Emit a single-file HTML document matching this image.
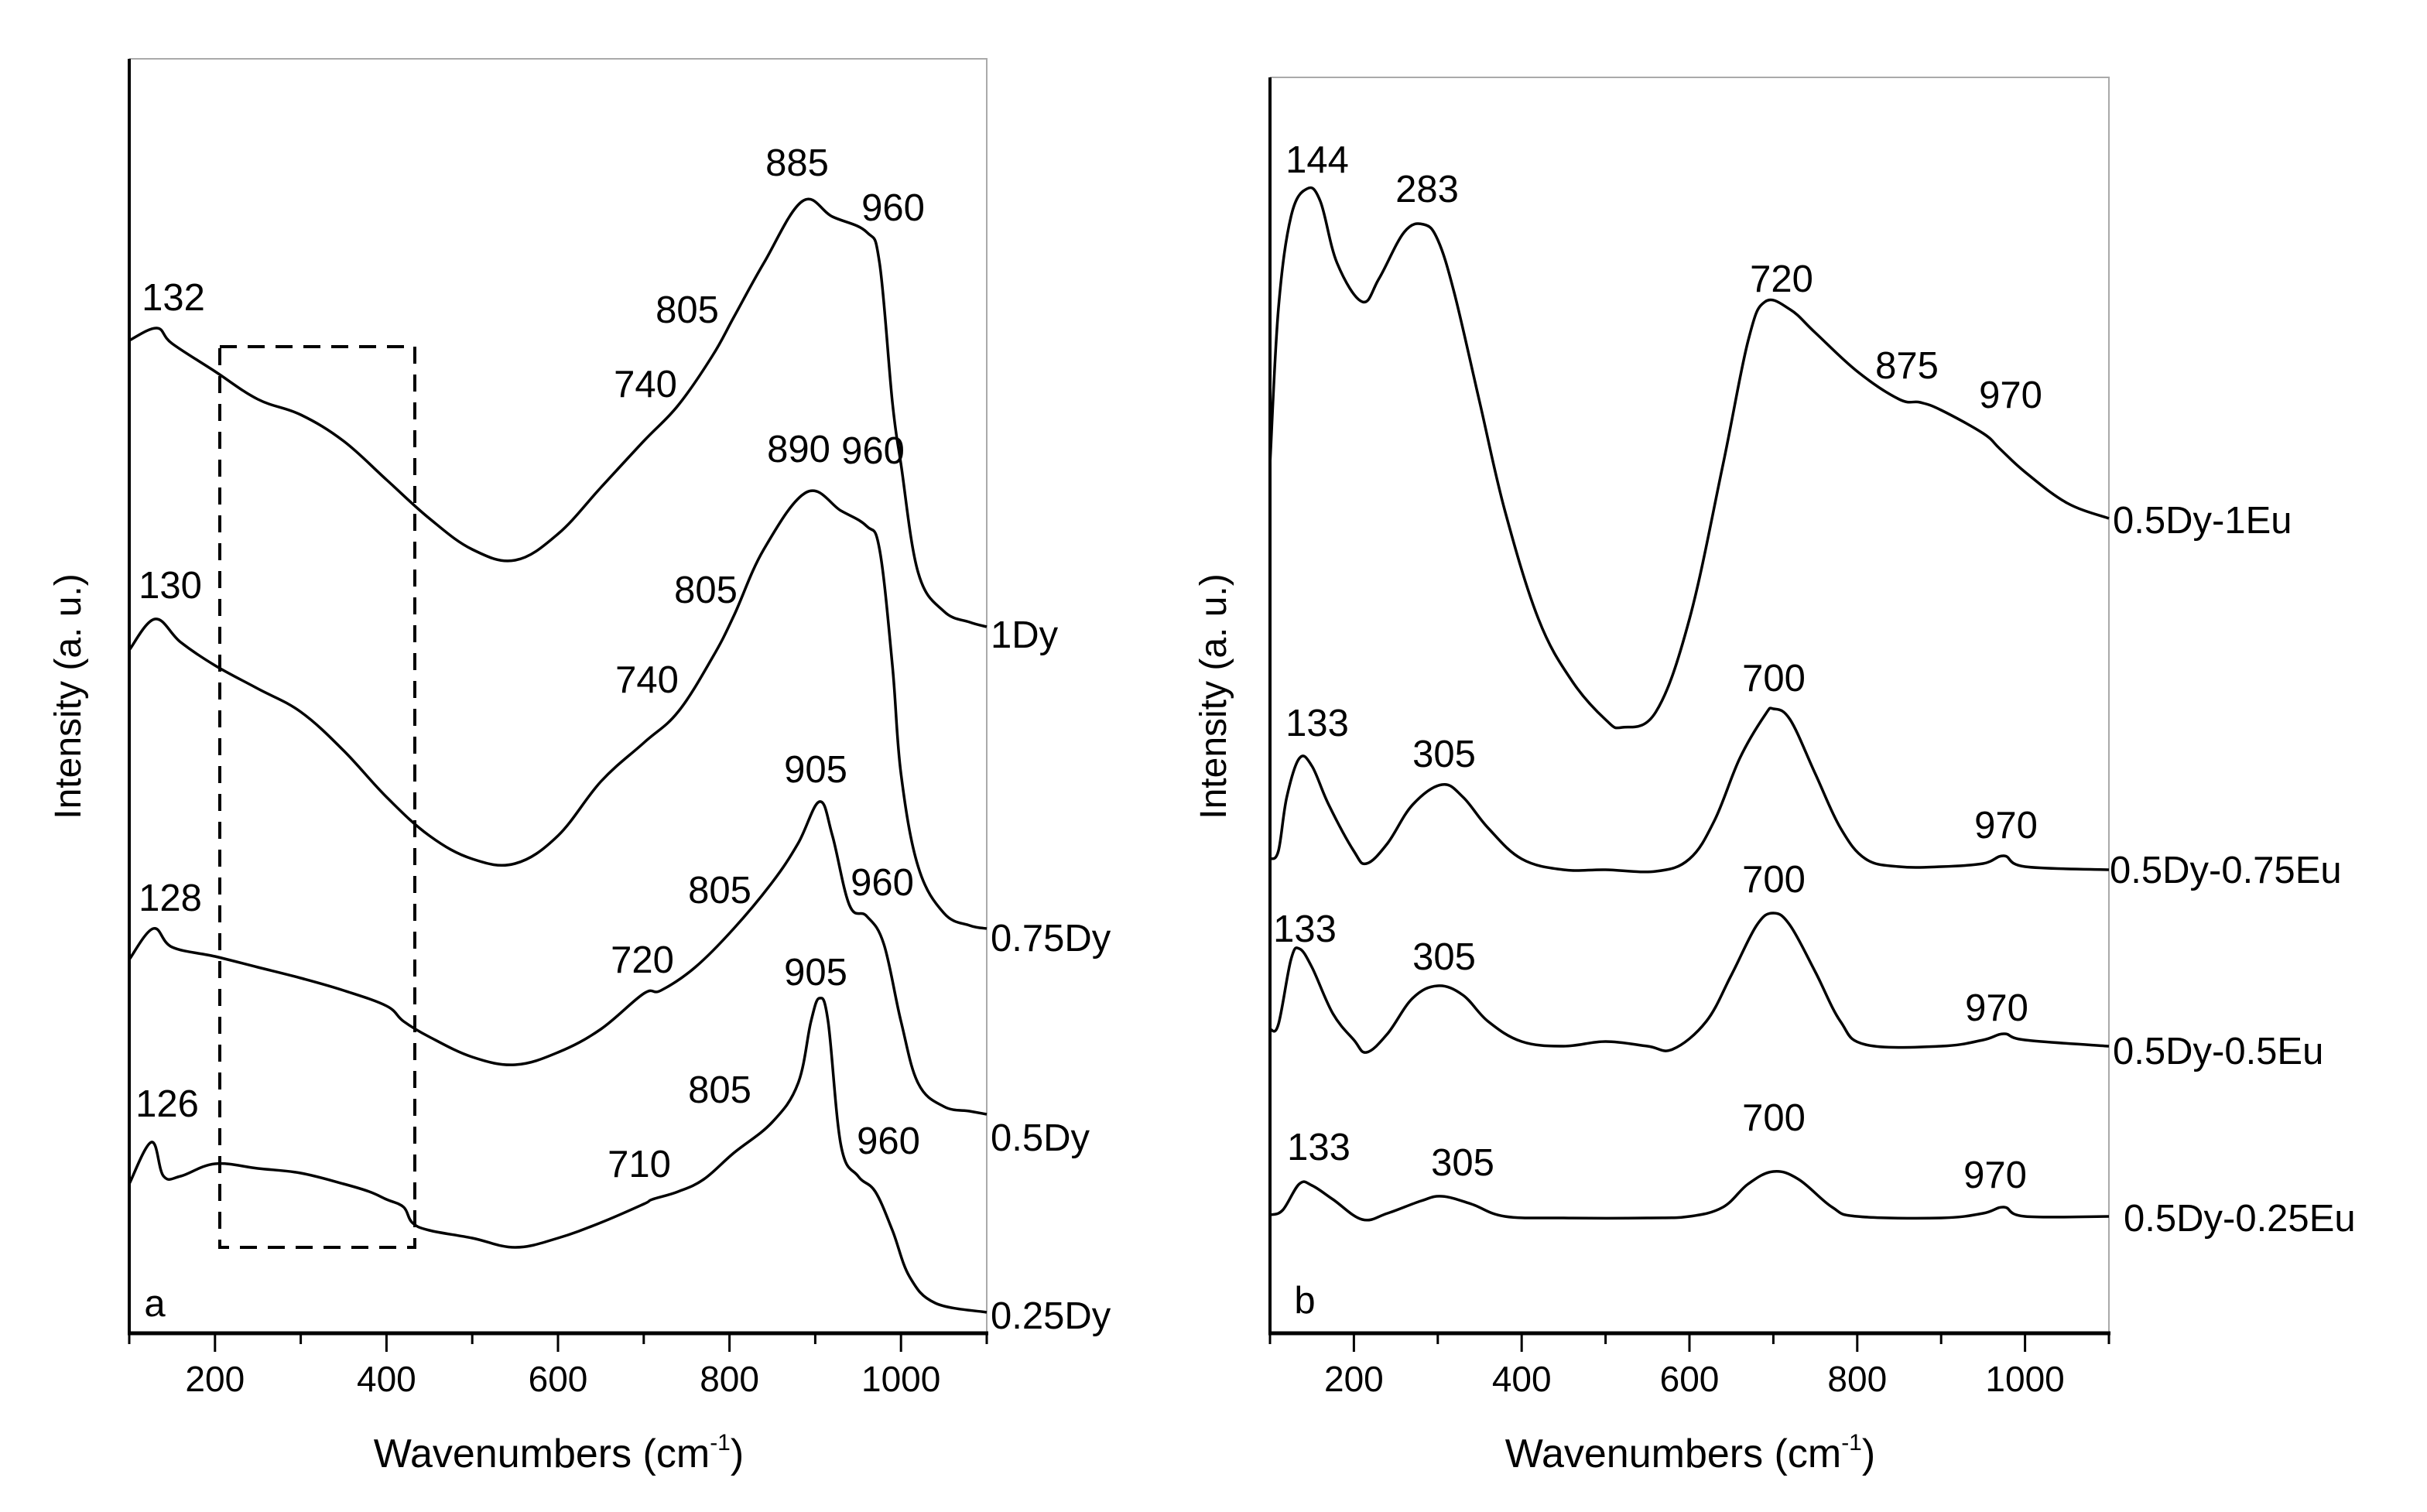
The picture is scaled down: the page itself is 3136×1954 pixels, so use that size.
<!DOCTYPE html>
<html><head><meta charset="utf-8"><style>
html,body{margin:0;padding:0;background:#fff;}
svg{display:block;font-family:"Liberation Sans",Arial,sans-serif;}
</style></head><body>
<svg id="fig" width="3136" height="1954" viewBox="0 0 3136 1954" xmlns="http://www.w3.org/2000/svg">
<rect width="3136" height="1954" fill="#fff"/>
</svg>
<script>
// ---- Panel a data ----
const wnA1 = [100,132,150,200,250,300,350,400,450,500,550,600,650,700,740,780,805,840,885,920,960,975,990,1000,1020,1050,1080,1100];
const vA1  = [642,650,640,622,604,594,577,552,527,507,500,517,547,577,600,632,657,692,732,722,712,692,602,562,492,467,460,457];
const wnA2 = [100,130,160,200,250,300,350,400,450,500,550,600,650,700,740,780,805,840,890,930,960,975,990,1000,1020,1050,1080,1100];
const vA2  = [442,462,447,432,417,402,377,347,322,307,304,322,357,382,402,437,464,507,544,532,522,507,432,362,302,272,264,262];
const wnA3 = [100,128,150,200,250,300,350,400,420,450,500,550,600,650,700,720,760,805,850,880,905,920,940,960,980,1000,1020,1050,1080,1100];
const vA3  = [242,262,250,244,237,230,222,212,202,192,179,174,182,197,220,222,237,262,292,317,344,322,277,270,252,202,162,147,144,142];
const wnA4 = [100,126,140,160,200,250,300,350,380,400,420,430,450,500,550,600,650,700,710,740,770,805,850,880,895,905,915,930,950,970,990,1010,1040,1100];
const vA4  = [97,124,102,102,110,107,104,97,92,87,82,72,67,62,56,62,72,84,87,92,100,117,137,162,202,217,202,122,102,92,67,37,20,14];
// ---- Panel b data ----
const wnB1 = [100,110,125,144,160,180,210,230,260,283,300,320,350,380,420,460,500,520,560,600,640,670,690,720,750,800,850,875,900,950,970,1000,1050,1100];
const vB1  = [562,662,722,740,732,692,667,682,712,717,707,672,602,532,462,422,397,392,402,462,562,642,667,662,647,622,604,602,597,582,572,557,537,527];
const wnB2 = [100,110,120,135,150,170,200,215,240,270,305,330,360,400,450,500,560,600,630,660,690,700,720,750,780,810,850,900,950,975,1000,1100];
const vB2  = [307,312,347,372,367,342,312,304,317,342,355,347,327,307,300,300,299,307,332,372,400,404,397,362,327,307,302,302,304,309,302,300];
const wnB3 = [100,110,125,135,150,175,200,215,240,270,300,330,360,400,450,500,550,580,620,650,680,700,720,750,780,810,900,950,975,1000,1100];
const vB3  = [197,200,242,249,237,207,190,182,194,217,225,219,202,189,186,189,186,184,202,232,264,272,264,234,202,187,186,190,194,190,186];
const wnB4 = [100,115,135,150,175,210,240,280,305,340,380,450,550,600,640,670,700,730,770,800,900,950,975,1000,1100];
const vB4  = [77,80,97,96,87,74,78,86,89,84,76,75,75,76,82,97,105,100,82,76,75,78,82,76,76];
const xTicks = [200,400,600,800,1000];
const minorTicks = [100,300,500,700,900,1100];

const NS = "http://www.w3.org/2000/svg";
const svg = document.getElementById('fig');
function mk(tag, attrs, parent){ const e=document.createElementNS(NS,tag); for(const k in attrs) e.setAttribute(k,attrs[k]); (parent||svg).appendChild(e); return e; }
function yS(v){ return 1724 - 2*v; }
function smoothPath(pts){
  let d = 'M'+pts[0][0].toFixed(1)+','+pts[0][1].toFixed(1);
  for(let i=0;i<pts.length-1;i++){
    const p0=pts[Math.max(0,i-1)], p1=pts[i], p2=pts[i+1], p3=pts[Math.min(pts.length-1,i+2)];
    const t=0.18;
    const c1x=p1[0]+(p2[0]-p0[0])*t, c1y=p1[1]+(p2[1]-p0[1])*t;
    const c2x=p2[0]-(p3[0]-p1[0])*t, c2y=p2[1]-(p3[1]-p1[1])*t;
    d+=` C${c1x.toFixed(1)},${c1y.toFixed(1)} ${c2x.toFixed(1)},${c2y.toFixed(1)} ${p2[0].toFixed(1)},${p2[1].toFixed(1)}`;
  }
  return d;
}

const panels = [
  {key:'a', x0:167, x1:1275, top:76, series:[[wnA1,vA1,'1Dy'],[wnA2,vA2,'0.75Dy'],[wnA3,vA3,'0.5Dy'],[wnA4,vA4,'0.25Dy']]},
  {key:'b', x0:1641, x1:2725, top:100, series:[[wnB1,vB1,'0.5Dy-1Eu'],[wnB2,vB2,'0.5Dy-0.75Eu'],[wnB3,vB3,'0.5Dy-0.5Eu'],[wnB4,vB4,'0.5Dy-0.25Eu']]}
];
panels.forEach(p=>{
  const xS = wn => p.x0 + (wn-100)/1000*(p.x1-p.x0);
  const g = mk('g',{});
  
  
  const fr = mk('path',{d:`M${p.x0},${p.top} H${p.x1} V1723`,fill:'none',stroke:'#aaa','stroke-width':2},g);
  
  
  const ya = mk('line',{x1:p.x0,y1:p.top,x2:p.x0,y2:1724,stroke:'#000','stroke-width':4},g);
  
  
  const xa = mk('line',{x1:p.x0-2,y1:1723,x2:p.x1+2,y2:1723,stroke:'#000','stroke-width':5},g);
  
  
  xTicks.forEach(t=>{
    const tk = mk('line',{x1:xS(t),y1:1723,x2:xS(t),y2:1747,stroke:'#000','stroke-width':3},g);
    
    
    const tl = mk('text',{x:xS(t),y:1798,'font-size':46,'text-anchor':'middle'},g);
    tl.textContent = t;
    
    
  });
  minorTicks.forEach(t=>{
    const tk = mk('line',{x1:xS(t),y1:1723,x2:xS(t),y2:1737,stroke:'#000','stroke-width':3},g);
    
    
  });
  p.series.forEach(([wn,v,name])=>{
    const pts = wn.map((w,i)=>[xS(w), yS(v[i])]);
    const path = mk('path',{d:smoothPath(pts),fill:'none',stroke:'#000','stroke-width':3.5,'stroke-linejoin':'round'},g);
    
    
  });
});
// dashed box panel a
const box = mk('rect',{x:284,y:448,width:252,height:1164,fill:'none',stroke:'#000','stroke-width':4,'stroke-dasharray':'22 14'});



// annotation labels [text, x, y(center), anchor]
const labels = [
 ['132',224,384,'middle'],['885',1030,210,'middle'],['960',1154,268,'middle'],['805',888,400,'middle'],['740',834,496,'middle'],['1Dy',1280,820,'start'],
 ['130',220,756,'middle'],['890',1032,580,'middle'],['960',1128,582,'middle'],['805',912,762,'middle'],['740',836,878,'middle'],['0.75Dy',1280,1212,'start'],
 ['128',220,1160,'middle'],['905',1054,994,'middle'],['805',930,1150,'middle'],['960',1140,1140,'middle'],['720',830,1240,'middle'],['0.5Dy',1280,1470,'start'],
 ['126',216,1426,'middle'],['905',1054,1256,'middle'],['805',930,1408,'middle'],['960',1148,1474,'middle'],['710',826,1504,'middle'],['0.25Dy',1280,1700,'start'],
 ['a',200,1684,'middle'],
 ['144',1702,206,'middle'],['283',1844,244,'middle'],['720',2302,360,'middle'],['875',2464,472,'middle'],['970',2598,510,'middle'],['0.5Dy-1Eu',2730,672,'start'],
 ['133',1702,934,'middle'],['305',1866,974,'middle'],['700',2292,876,'middle'],['970',2592,1066,'middle'],['0.5Dy-0.75Eu',2726,1124,'start'],
 ['133',1686,1200,'middle'],['305',1866,1236,'middle'],['700',2292,1136,'middle'],['970',2580,1302,'middle'],['0.5Dy-0.5Eu',2730,1358,'start'],
 ['133',1704,1482,'middle'],['305',1890,1502,'middle'],['700',2292,1444,'middle'],['970',2578,1518,'middle'],['0.5Dy-0.25Eu',2744,1574,'start'],
 ['b',1686,1680,'middle']
];
labels.forEach(([t,x,y,a])=>{
  const e = mk('text',{x:x,y:y+17,'font-size':49,'text-anchor':a});
  e.textContent = t;
  
  
});
// axis titles
function xTitle(cx,name){
  const e = mk('text',{x:cx,y:1896,'font-size':52,'text-anchor':'middle'});
  
  
  e.innerHTML = 'Wavenumbers (cm<tspan font-size="30" dy="-22">-1</tspan><tspan dy="22">)</tspan>';
}
xTitle(722,'x-axis-title-a'); xTitle(2184,'x-axis-title-b');
function yTitle(cx,name){
  const e = mk('text',{x:0,y:0,'font-size':48,'text-anchor':'middle',transform:`translate(${cx},900) rotate(-90)`});
  e.textContent = 'Intensity (a. u.)';
  
  
}
yTitle(104,'y-axis-title-a'); yTitle(1584,'y-axis-title-b');
</script>
</body></html>
